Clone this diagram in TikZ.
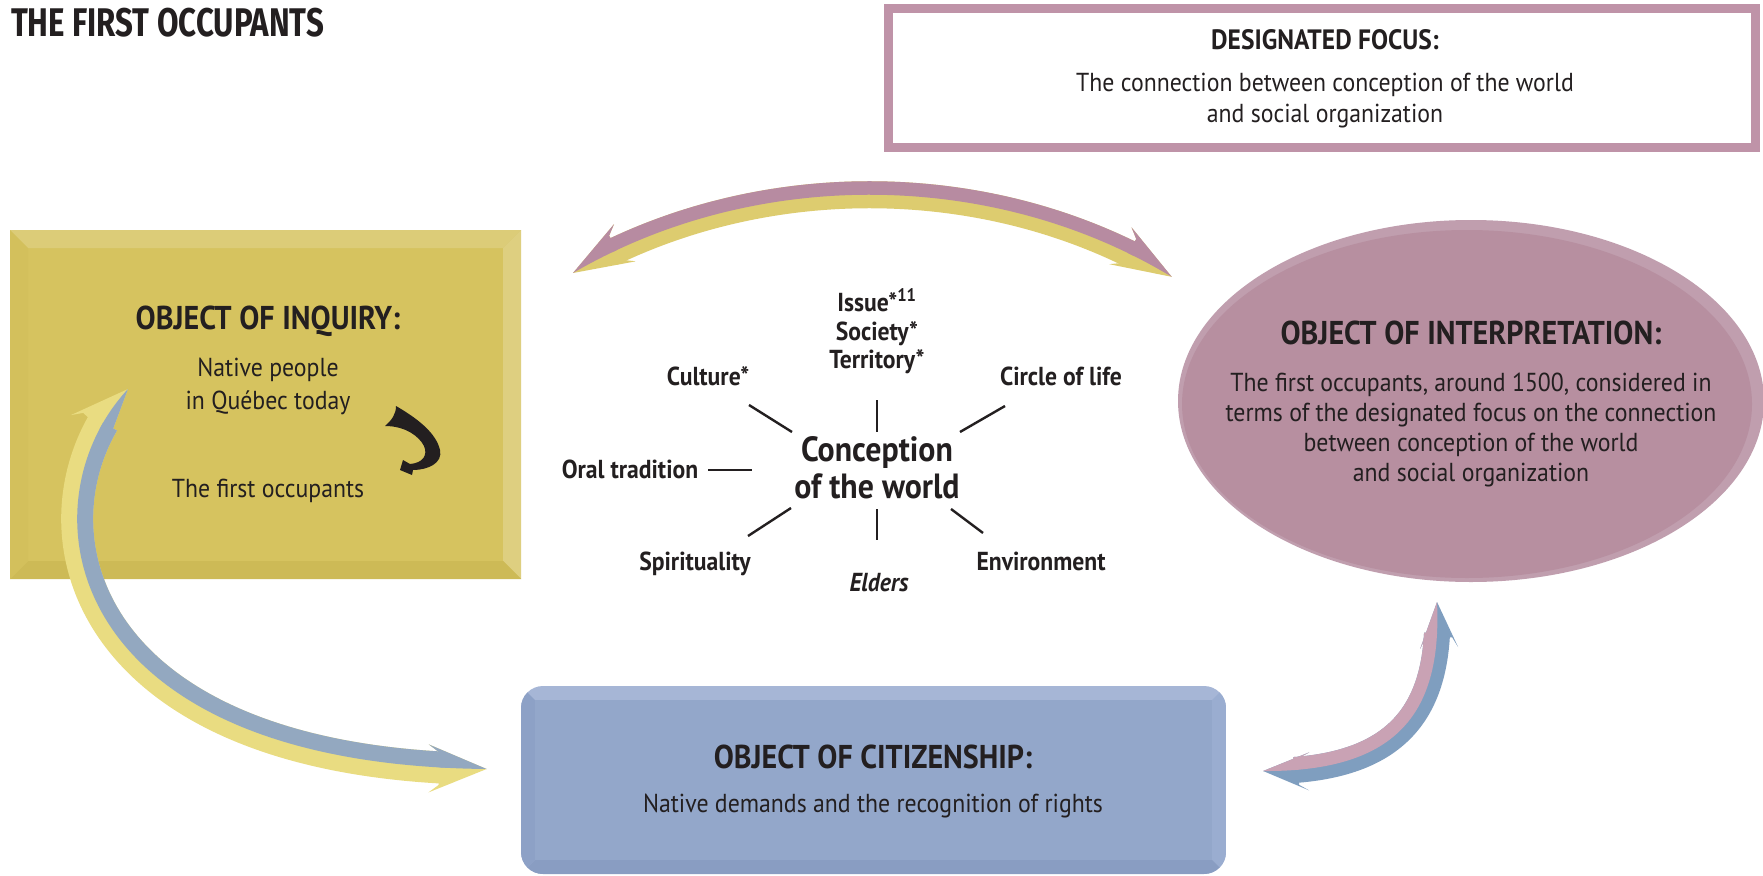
\documentclass[tikz,border=0pt]{standalone}
\usepackage{fontspec}
\setmainfont{PT Sans}
\newfontfamily\bodyfont{PT Sans}[FakeStretch=0.915]
\newfontfamily\headfont{PT Sans}[FakeStretch=0.91]
\newfontfamily\titlefont{Fira Sans}[FakeStretch=0.78]
\usetikzlibrary{decorations.markings,calc}
\definecolor{ink}{HTML}{231F20}
\definecolor{focusB}{HTML}{BF93A8}
\definecolor{yFace}{HTML}{D6C35F}
\definecolor{yTop}{HTML}{DCCC78}
\definecolor{yRight}{HTML}{DECF80}
\definecolor{yBottom}{HTML}{CDBA56}
\definecolor{yLeft}{HTML}{D3C05C}
\definecolor{bFace}{HTML}{93A7CA}
\definecolor{bTop}{HTML}{A6B6D6}
\definecolor{bLeft}{HTML}{8DA1C6}
\definecolor{bRight}{HTML}{9AADD0}
\definecolor{bBottom}{HTML}{899DC2}
\definecolor{eFace}{HTML}{B78FA0}
\definecolor{eRim}{HTML}{C09EAE}
\definecolor{arcM}{HTML}{B78BA1}
\definecolor{arcY}{HTML}{DDCC6F}
\definecolor{lY}{HTML}{E9DC81}
\definecolor{lB}{HTML}{93A8C0}
\definecolor{rP}{HTML}{C9A2B4}
\definecolor{rB}{HTML}{7F9EBF}

% #1 path, #2 head length, #3 half width, #4 notch half width, #5 colour
\newcommand{\twoheads}[5]{%
  \path[decoration={markings,
    mark=at position 0 with {\fill[#5] (0,0) -- (#2,#3) -- (#2-10,#4) -- (#2-10,-#4) -- (#2,-#3) -- cycle;},
    mark=at position 0.9995 with {\fill[#5] (0,0) -- (-#2,#3) -- (-#2+10,#4) -- (-#2+10,-#4) -- (-#2,-#3) -- cycle;}},
    decorate] #1;}

% sub-curve of a cubic Bezier (de Casteljau): #1 prefix, #2..#5 points, #6 start t, #7 relative end
\newcommand{\subbez}[7]{%
  \coordinate (#1ab) at ($(#2)!#6!(#3)$);
  \coordinate (#1bc) at ($(#3)!#6!(#4)$);
  \coordinate (#1cd) at ($(#4)!#6!(#5)$);
  \coordinate (#1abc) at ($(#1ab)!#6!(#1bc)$);
  \coordinate (#1bcd) at ($(#1bc)!#6!(#1cd)$);
  \coordinate (#1R0) at ($(#1abc)!#6!(#1bcd)$);
  \coordinate (#1e1) at ($(#1R0)!#7!(#1bcd)$);
  \coordinate (#1e2) at ($(#1bcd)!#7!(#1cd)$);
  \coordinate (#1e3) at ($(#1cd)!#7!(#5)$);
  \coordinate (#1f1) at ($(#1e1)!#7!(#1e2)$);
  \coordinate (#1f2) at ($(#1e2)!#7!(#1e3)$);
  \coordinate (#1S3) at ($(#1f1)!#7!(#1f2)$);}

\begin{document}
\begin{tikzpicture}[x=1pt,y=-1pt,
  every node/.style={inner sep=0pt, outer sep=0pt, text=ink},
  headtxt/.style={font=\headfont\bfseries\fontsize{33}{38}\selectfont, anchor=base},
  bodytxt/.style={font=\bodyfont\fontsize{26}{30}\selectfont, anchor=base},
  startxt/.style={font=\headfont\bfseries\fontsize{26}{30}\selectfont, anchor=base},
  spoke/.style={draw=ink, line width=2.4pt},
]
\useasboundingbox (0,0) rectangle (1763,875);
\clip (0,0) rectangle (1763,875);
\fill[white] (0,0) rectangle (1763,875);

% ---------- title
\node[anchor=base west, font=\titlefont\bfseries\fontsize{40}{44}\selectfont] (title) at (11,37) {THE FIRST OCCUPANTS};

% ---------- designated focus box
\draw[draw=focusB, line width=9pt, fill=white] (888.5,8.5) rectangle (1755,147.5);
\node[headtxt, font=\headfont\bfseries\fontsize{28}{32}\selectfont] (focusH) at (1325,50) {DESIGNATED FOCUS:};
\node[bodytxt] (focus1) at (1325,92) {The connection between conception of the world};
\node[bodytxt] (focus2) at (1325,122) {and social organization};

% ---------- yellow box (object of inquiry)
\fill[yFace] (10,230) rectangle (521,579);
\fill[yTop] (10,230) -- (521,230) -- (503,248) -- (28,248) -- cycle;
\fill[yRight] (521,230) -- (521,579) -- (503,561) -- (503,248) -- cycle;
\fill[yBottom] (10,579) -- (521,579) -- (503,561) -- (28,561) -- cycle;
\fill[yLeft] (10,230) -- (28,248) -- (28,561) -- (10,579) -- cycle;
\node[headtxt] (inqH) at (268,329) {OBJECT OF INQUIRY:};
\node[bodytxt] (inq1) at (268,376) {Native people};
\node[bodytxt] (inq2) at (268,409) {in Québec today};
\node[bodytxt] (inq3) at (268,497) {The first occupants};
% black curved arrow
\fill[ink] (396,406) .. controls (415,417) and (436,432) .. (440,450)
  .. controls (443,463) and (428,470) .. (413,470) -- (412,475) -- (400,470) -- (403,460) -- (410,464)
  .. controls (423,463) and (428,455) .. (424,446)
  .. controls (419,436) and (405,426) .. (385,426)
  .. controls (392,420) and (396,414) .. (396,406) -- cycle;

% ---------- ellipse (object of interpretation)
\fill[eRim] (1471,401) ellipse [x radius=293, y radius=181];
\fill[eFace] (1467,404) ellipse [x radius=285, y radius=174];
\node[headtxt] (intH) at (1471,344) {OBJECT OF INTERPRETATION:};
\node[bodytxt] (int1) at (1471,391) {The first occupants, around 1500, considered in};
\node[bodytxt] (int2) at (1471,421) {terms of the designated focus on the connection};
\node[bodytxt] (int3) at (1471,451) {between conception of the world};
\node[bodytxt] (int4) at (1471,481) {and social organization};

% ---------- blue box (object of citizenship)
\begin{scope}
  \clip[rounded corners=22pt] (521,686) rectangle (1226,874);
  \fill[bTop] (521,686) rectangle (1226,874);
  \fill[bLeft] (521,686) -- (535,700) -- (535,860) -- (521,874) -- cycle;
  \fill[bRight] (1226,686) -- (1212,700) -- (1212,860) -- (1226,874) -- cycle;
  \fill[bBottom] (521,874) -- (535,860) -- (1212,860) -- (1226,874) -- cycle;
  \fill[bFace] (535,700) rectangle (1212,860);
\end{scope}
\node[headtxt] (citH) at (873,768) {OBJECT OF CITIZENSHIP:};
\node[bodytxt] (cit1) at (873,812) {Native demands and the recognition of rights};

% ---------- arrows
\coordinate (ta1) at (573,273); \coordinate (ta1c) at (753,168);
\coordinate (ta2c) at (992,168); \coordinate (ta2) at (1172,277);
\coordinate (la1) at (128,389); \coordinate (la1c) at (20,505);
\coordinate (la2c) at (60,765); \coordinate (la2) at (487,769);
\coordinate (ra1) at (1437,602); \coordinate (ra1c) at (1442,710);
\coordinate (ra2c) at (1400,772); \coordinate (ra2) at (1263,771);
\subbez{T}{ta1}{ta1c}{ta2c}{ta2}{0.070}{0.9247}
\subbez{L}{la1}{la1c}{la2c}{la2}{0.088}{0.9627}
\subbez{R}{ra1}{ra1c}{ra2c}{ra2}{0.101}{0.910}

% top arrow: yellow below, mauve above
\draw[arcY, line width=27pt] (TR0) .. controls (Te1) and (Tf1) .. (TS3);
\twoheads{(ta1) .. controls (ta1c) and (ta2c) .. (ta2)}{60}{21.5}{14}{arcY}
\begin{scope}
  \clip (453,343) -- (ta1) .. controls (ta1c) and (ta2c) .. (ta2) -- (1292,350) -- (1292,100) -- (453,100) -- cycle;
  \draw[arcM, line width=27pt] (TR0) .. controls (Te1) and (Tf1) .. (TS3);
  \twoheads{(ta1) .. controls (ta1c) and (ta2c) .. (ta2)}{60}{21.5}{14}{arcM}
\end{scope}

% left arrow: yellow outside, blue inside
\draw[lY, line width=32pt] (LR0) .. controls (Le1) and (Lf1) .. (LS3);
\twoheads{(la1) .. controls (la1c) and (la2c) .. (la2)}{58}{24}{16.5}{lY}
\begin{scope}
  \clip (183,330) -- (la1) .. controls (la1c) and (la2c) .. (la2) -- (567,770) -- (567,330) -- cycle;
  \draw[lB, line width=32pt] (LR0) .. controls (Le1) and (Lf1) .. (LS3);
  \twoheads{(la1) .. controls (la1c) and (la2c) .. (la2)}{58}{24}{16.5}{lB}
\end{scope}

% right arrow: blue outside, pink inside
\draw[rB, line width=26pt] (RR0) .. controls (Re1) and (Rf1) .. (RS3);
\twoheads{(ra1) .. controls (ra1c) and (ra2c) .. (ra2)}{46}{19}{13.5}{rB}
\begin{scope}
  \clip (1433,530) -- (ra1) .. controls (ra1c) and (ra2c) .. (ra2) -- (1190,770) -- (1190,530) -- cycle;
  \draw[rP, line width=26pt] (RR0) .. controls (Re1) and (Rf1) .. (RS3);
  \twoheads{(ra1) .. controls (ra1c) and (ra2c) .. (ra2)}{46}{19}{13.5}{rP}
\end{scope}

% ---------- conception of the world
\node[headtxt, font=\headfont\bfseries\fontsize{35}{40}\selectfont] (conc1) at (877,461) {Conception};
\node[headtxt, font=\headfont\bfseries\fontsize{35}{40}\selectfont] (conc2) at (877,498) {of the world};
\node[startxt] (issue) at (877,311) {Issue*\textsuperscript{11}};
\node[startxt] (society) at (877,340) {Society*};
\node[startxt] (territory) at (877,368) {Territory*};
\node[startxt] (culture) at (708,385) {Culture*};
\node[startxt] (circle) at (1061,385) {Circle of life};
\node[startxt] (oral) at (630,478) {Oral tradition};
\node[startxt] (spirit) at (695,570) {Spirituality};
\node[startxt] (environ) at (1041,570) {Environment};
\node[startxt, font=\headfont\bfseries\itshape\fontsize{26}{30}\selectfont] (elders) at (879,591) {Elders};

\draw[spoke] (749,405) -- (792,432);
\draw[spoke] (877,400) -- (877,432);
\draw[spoke] (1005,406) -- (960,432);
\draw[spoke] (708,470) -- (752,470);
\draw[spoke] (791,508) -- (748,536);
\draw[spoke] (877,509) -- (877,540);
\draw[spoke] (951,509) -- (983,533);
\end{tikzpicture}
\end{document}
